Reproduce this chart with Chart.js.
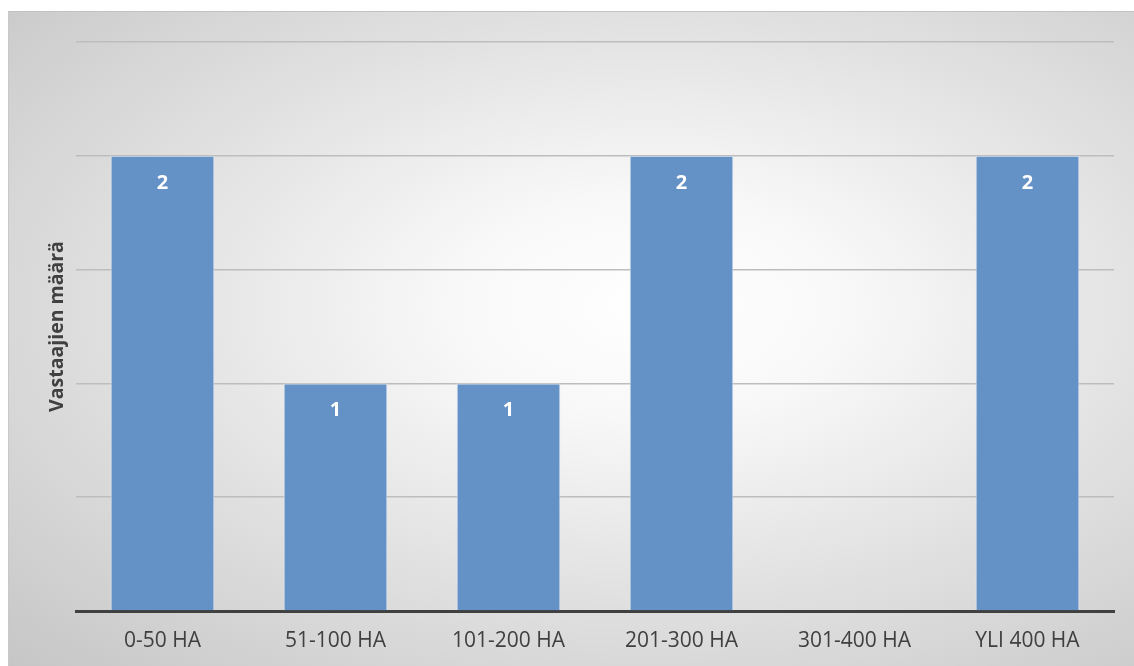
<!DOCTYPE html>
<html>
<head>
<meta charset="utf-8">
<script src="https://cdn.jsdelivr.net/npm/chart.js@4"></script>
<style>
  body { margin: 0; background: #fff; }
  #kehys {
    position: absolute; left: 8px; top: 11px; width: 1126px; height: 655px;
    box-sizing: border-box; border-top: 1px solid #c2c2c2; border-left: 1px solid #c8c8c8;
    background: radial-gradient(ellipse farthest-corner at 57% 45%, #ffffff 0%, #f8f8f8 22%, #e2e2e2 55%, #c6c6c6 100%);
  }
  canvas { position: absolute; left: 0; top: 0; }
</style>
</head>
<body>
<div id="kehys"><canvas id="kaavio" width="1126" height="655"></canvas></div>
<script>
// Tilakoko -> vastaajien määrä
const kategoriat = ["0-50 HA", "51-100 HA", "101-200 HA", "201-300 HA", "301-400 HA", "YLI 400 HA"];
const vastaajat = [2, 1, 1, 2, 0, 2];
const yMax = 2.5;
const yAskel = 0.5;

// arvot pylväiden sisään, yläreunan alle
const arvoTekstit = {
  id: "arvoTekstit",
  afterDatasetsDraw(chart) {
    const ctx = chart.ctx;
    const meta = chart.getDatasetMeta(0);
    ctx.save();
    ctx.fillStyle = "#ffffff";
    ctx.font = "bold 20px 'Open Sans'";
    ctx.textAlign = "center";
    ctx.textBaseline = "middle";
    meta.data.forEach((bar, i) => {
      const v = vastaajat[i];
      if (!v) return;
      ctx.fillText(String(v), bar.x, bar.y + 27);
    });
    ctx.restore();
  }
};

new Chart(document.getElementById("kaavio"), {
  type: "bar",
  data: {
    labels: kategoriat,
    datasets: [{
      data: vastaajat,
      backgroundColor: "#6592c6",
      borderColor: "rgba(220,232,246,0.9)",
      borderWidth: 1,
      borderSkipped: "bottom",
      categoryPercentage: 1,
      barPercentage: 0.6
    }]
  },
  options: {
    responsive: false,
    animation: false,
    layout: { padding: { top: 30, right: 21, left: 0, bottom: 0 } },
    plugins: { legend: { display: false }, tooltip: { enabled: false } },
    scales: {
      x: {
        grid: { display: false, drawTicks: false },
        border: { color: "#404040", width: 3 },
        ticks: { color: "#404040", font: { family: "'Open Sans'", size: 21 }, padding: 17 },
        afterFit(s) { s.height = 56; }
      },
      y: {
        min: 0, max: yMax,
        ticks: { display: false, stepSize: yAskel },
        grid: { color: "#bdbdbd", lineWidth: 1.5, drawTicks: false },
        border: { display: false },
        title: {
          display: true, text: "Vastaajien määrä", color: "#404040",
          font: { family: "'Open Sans'", size: 19.5, weight: "bold" },
          padding: { top: 37, bottom: 0 }
        },
        afterFit(s) { s.width = 67; }
      }
    }
  },
  plugins: [arvoTekstit]
});
</script>
</body>
</html>
